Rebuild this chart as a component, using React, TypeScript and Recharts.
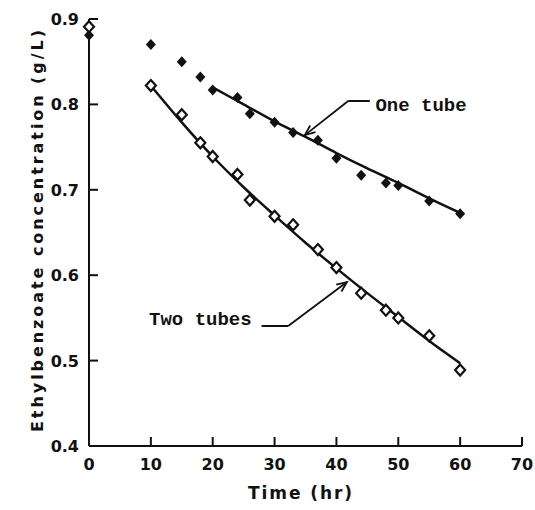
import React from "react";
import {
  ComposedChart,
  Line,
  Scatter,
  XAxis,
  YAxis,
  ReferenceLine,
  ReferenceDot,
} from "recharts";

// measured points
const oneTubeTime = [0, 10, 15, 18, 20, 24, 26, 30, 33, 37, 40, 44, 48, 50, 55, 60];
const oneTubeConc = [0.881, 0.87, 0.85, 0.832, 0.817, 0.808, 0.789, 0.779, 0.767, 0.758, 0.737, 0.717, 0.708, 0.705, 0.687, 0.672];
const twoTubeTime = [0, 10, 15, 18, 20, 24, 26, 30, 33, 37, 40, 44, 48, 50, 55, 60];
const twoTubeConc = [0.891, 0.822, 0.788, 0.755, 0.739, 0.718, 0.688, 0.669, 0.659, 0.63, 0.609, 0.579, 0.559, 0.55, 0.529, 0.489];

// fitted curves
const oneFitTime = [20, 25, 30, 35, 40, 45, 50, 55, 60];
const oneFitConc = [0.82, 0.8, 0.78, 0.762, 0.743, 0.725, 0.708, 0.69, 0.673];
const twoFitTime = [10, 15, 20, 25, 30, 35, 40, 45, 50, 55, 60];
const twoFitConc = [0.822, 0.779, 0.739, 0.703, 0.67, 0.638, 0.608, 0.579, 0.551, 0.523, 0.497];

const xTicks = [0, 10, 20, 30, 40, 50, 60, 70];
const yTicks = [0.4, 0.5, 0.6, 0.7, 0.8, 0.9];

const toPoints = (xs: number[], ys: number[]) => xs.map((x, i) => ({ x, y: ys[i] }));

const oneTube = toPoints(oneTubeTime, oneTubeConc);
const twoTubes = toPoints(twoTubeTime, twoTubeConc);
const oneFit = toPoints(oneFitTime, oneFitConc);
const twoFit = toPoints(twoFitTime, twoFitConc);

const ink = "#111";
const tickFont = { fontFamily: "DejaVu Sans", fontWeight: 700, fontSize: 16, fill: ink };
const noteFont = { fontFamily: "Liberation Mono", fontWeight: 700, fontSize: 19, fill: ink };

const BottomTick = ({ x, y, payload }: any) => (
  <g>
    <line x1={x} y1={y} x2={x} y2={y - 9} stroke={ink} strokeWidth={2} />
    <text x={x} y={y + 24} textAnchor="middle" {...tickFont}>
      {payload.value}
    </text>
  </g>
);
const TopTick = ({ x, y }: any) => (
  <line x1={x} y1={y} x2={x} y2={y + 9} stroke={ink} strokeWidth={2} />
);
const LeftTick = ({ x, y, payload }: any) => (
  <g>
    <line x1={x} y1={y} x2={x + 9} y2={y} stroke={ink} strokeWidth={2} />
    <text x={x - 10} y={y + 6} textAnchor="end" {...tickFont}>
      {payload.value.toFixed(1)}
    </text>
  </g>
);
const RightTick = ({ x, y }: any) => (
  <line x1={x} y1={y} x2={x - 9} y2={y} stroke={ink} strokeWidth={2} />
);

const FilledDiamond = ({ cx, cy }: any) => (
  <path d={`M${cx},${cy - 5.5}L${cx + 5},${cy}L${cx},${cy + 5.5}L${cx - 5},${cy}Z`} fill={ink} />
);
const OpenDiamond = ({ cx, cy }: any) => (
  <path
    d={`M${cx},${cy - 5.5}L${cx + 5},${cy}L${cx},${cy + 5.5}L${cx - 5},${cy}Z`}
    fill="#fff"
    stroke={ink}
    strokeWidth={2.2}
  />
);

const Leader = ({ x1, y1, x2, y2 }: any) => (
  <line x1={x1} y1={y1} x2={x2} y2={y2} stroke={ink} strokeWidth={2} />
);
const Arrow = ({ x1, y1, x2, y2 }: any) => {
  const a = Math.atan2(y2 - y1, x2 - x1);
  const len = 11;
  const spread = 0.4;
  const ax = x2 - len * Math.cos(a - spread);
  const ay = y2 - len * Math.sin(a - spread);
  const bx = x2 - len * Math.cos(a + spread);
  const by = y2 - len * Math.sin(a + spread);
  return (
    <g stroke={ink} strokeWidth={1.8} fill="none">
      <line x1={x1} y1={y1} x2={x2} y2={y2} />
      <polyline points={`${ax},${ay} ${x2},${y2} ${bx},${by}`} />
    </g>
  );
};
const noteText = (text: string, anchor: "start" | "end") => ({ cx, cy }: any) => (
  <text x={cx} y={cy + 7} textAnchor={anchor} {...noteFont}>
    {text}
  </text>
);

export default function App() {
  return (
    <div style={{ position: "absolute", left: 0, top: 0, background: "#fff" }}>
      <ComposedChart width={535} height={510} margin={{ top: 19, right: 13, bottom: 0, left: 0 }}>
        <XAxis
          xAxisId={0}
          dataKey="x"
          type="number"
          domain={[0, 70]}
          ticks={xTicks}
          height={64}
          tickSize={0}
          tickMargin={0}
          tickLine={false}
          axisLine={{ stroke: ink, strokeWidth: 2 }}
          tick={<BottomTick />}
          label={{
            content: ({ viewBox }: any) => (
              <text
                x={300}
                y={viewBox.y + 53}
                textAnchor="middle"
                {...tickFont}
                fontSize={17}
                textLength={104}
                lengthAdjust="spacing"
              >
                Time (hr)
              </text>
            ),
          }}
        />
        <XAxis
          xAxisId="top"
          orientation="top"
          type="number"
          domain={[0, 70]}
          ticks={xTicks}
          allowDataOverflow
          height={0}
          tickSize={0}
          tickMargin={0}
          tickLine={false}
          axisLine={{ stroke: ink, strokeWidth: 2 }}
          tick={<TopTick />}
        />
        <YAxis
          yAxisId={0}
          dataKey="y"
          type="number"
          domain={[0.4, 0.9]}
          ticks={yTicks}
          width={89}
          tickSize={0}
          tickMargin={0}
          tickLine={false}
          axisLine={{ stroke: ink, strokeWidth: 2 }}
          tick={<LeftTick />}
          label={{
            content: ({ viewBox }: any) => {
              const cx = viewBox.x + 37;
              const cy = 231;
              return (
                <text
                  x={cx}
                  y={cy}
                  transform={`rotate(-90 ${cx} ${cy})`}
                  textAnchor="middle"
                  dominantBaseline="central"
                  {...tickFont}
                  textLength={402}
                  lengthAdjust="spacing"
                >
                  Ethylbenzoate concentration (g/L)
                </text>
              );
            },
          }}
        />
        <YAxis
          yAxisId="right"
          orientation="right"
          type="number"
          domain={[0.4, 0.9]}
          ticks={yTicks}
          allowDataOverflow
          width={0}
          tickSize={0}
          tickMargin={0}
          tickLine={false}
          axisLine={{ stroke: ink, strokeWidth: 2 }}
          tick={<RightTick />}
        />

        <Line data={oneFit} dataKey="y" type="monotone" stroke={ink} strokeWidth={2.5} dot={false} isAnimationActive={false} />
        <Line data={twoFit} dataKey="y" type="monotone" stroke={ink} strokeWidth={2.5} dot={false} isAnimationActive={false} />
        <Scatter data={oneTube} dataKey="y" shape={<FilledDiamond />} isAnimationActive={false} />
        <Scatter data={twoTubes} dataKey="y" shape={<OpenDiamond />} isAnimationActive={false} />

        {/* One tube label */}
        <ReferenceLine segment={[{ x: 41.9, y: 0.804 }, { x: 45.4, y: 0.804 }]} shape={<Leader />} />
        <ReferenceLine segment={[{ x: 41.9, y: 0.804 }, { x: 34.9, y: 0.764 }]} shape={<Arrow />} />
        <ReferenceDot x={46.3} y={0.8} r={0} shape={noteText("One tube", "start")} />

        {/* Two tubes label */}
        <ReferenceLine segment={[{ x: 27.9, y: 0.5405 }, { x: 32.2, y: 0.5405 }]} shape={<Leader />} />
        <ReferenceLine segment={[{ x: 32.2, y: 0.5405 }, { x: 41.7, y: 0.592 }]} shape={<Arrow />} />
        <ReferenceDot x={26.3} y={0.55} r={0} shape={noteText("Two tubes", "end")} />
      </ComposedChart>
    </div>
  );
}
